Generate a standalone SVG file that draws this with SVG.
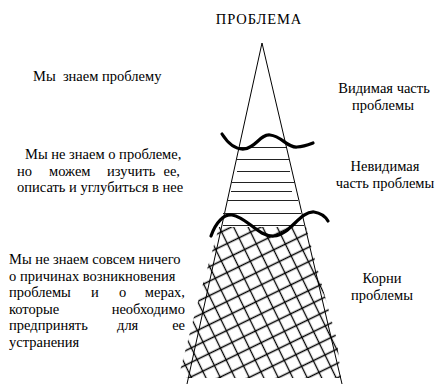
<svg xmlns="http://www.w3.org/2000/svg" width="440" height="385" viewBox="0 0 440 385">
<style>
text{font-family:"Liberation Serif","DejaVu Serif","Times New Roman",serif;font-size:14.5px;fill:#000}
.c{text-anchor:middle}
.e{text-anchor:end}
.ln{stroke:#000;stroke-width:1;fill:none}
.hl{stroke:#222;stroke-width:1;fill:none}
.wave{stroke:#000;stroke-width:3.2;fill:none;stroke-linecap:round}
</style>
<defs>
<pattern id="hatch" width="13" height="13" patternUnits="userSpaceOnUse" patternTransform="rotate(-26)">
<path d="M0,6.5H13M6.5,0V13" stroke="#000" stroke-width="1.3"/>
</pattern>
</defs>
<g id="title"><text class="c" x="259" y="24" style="letter-spacing:0.9px">ПРОБЛЕМА</text></g>
<g id="pyramid">
<path class="ln" d="M262,43 L187,384 M262,43 L342,384"/>
<g id="invisible-lines">
<path class="hl" d="M238,147.5H286M237,159.5H289M237,171.5H290M231,182.5H295M231,191.5H292M227,200.5H298M223,213.5H301M223,225.5H304"/>
</g>
<g id="roots">
<polygon points="219,227 306,227 337,340 341,378 186,378 180,371 197,305" fill="url(#hatch)"/>
</g>
<path class="wave" d="M222,134 C229,145 236,149.5 244,149 C256,148 260,134 270,135 C282,136 287,148 297,147 C304,146.5 309,144.5 313,143"/>
<path class="wave" d="M211,236 C216,222 224,214 232,215 C247,217 258,237 274,236 C290,235 300,211 314,212 C321,213 325,216 328,221"/>
</g>
<g id="left-labels">
<text x="33" y="81" xml:space="preserve">Мы  знаем проблему</text>
<text x="25" y="159">Мы не знаем о проблеме,</text>
<text x="17" y="175.5">но</text><text x="49" y="175.5">можем</text><text x="107" y="175.5">изучить</text><text class="e" x="180" y="175.5">ее,</text>
<text x="17" y="192">описать и углубиться в нее</text>
<text x="9" y="264">Мы не знаем совсем ничего</text>
<text x="9" y="280.5">о причинах возникновения</text>
<text x="9" y="297">проблемы</text><text x="91" y="297">и</text><text x="119" y="297">о</text><text class="e" x="185" y="297">мерах,</text>
<text x="9" y="313.5">которые</text><text class="e" x="185" y="313.5">необходимо</text>
<text x="9" y="330">предпринять</text><text x="117" y="330">для</text><text class="e" x="185" y="330">ее</text>
<text x="9" y="346.5">устранения</text>
</g>
<g id="right-labels">
<text class="c" x="384" y="93">Видимая часть</text>
<text class="c" x="383" y="110">проблемы</text>
<text class="c" x="385" y="171">Невидимая</text>
<text class="c" x="385" y="188">часть проблемы</text>
<text class="c" x="382" y="283">Корни</text>
<text class="c" x="382" y="300">проблемы</text>
</g>
</svg>
